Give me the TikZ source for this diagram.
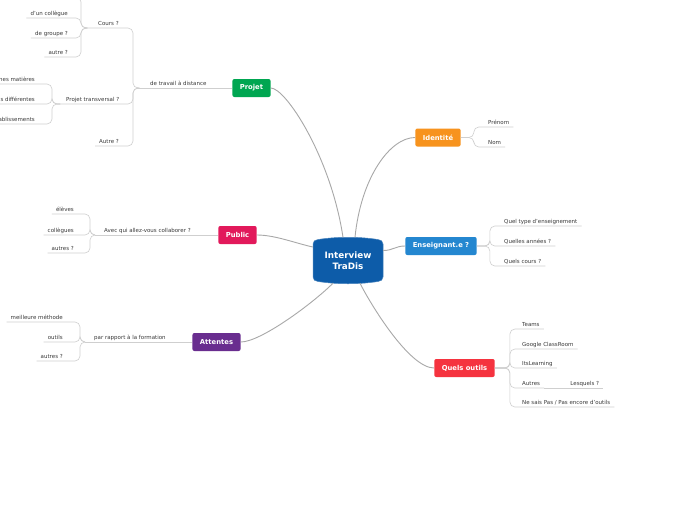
\documentclass[tikz,border=0pt]{standalone}
\usepackage{fontspec}
\setmainfont{DejaVu Sans}
\usetikzlibrary{positioning,backgrounds}

\definecolor{tradisblue}{HTML}{0D5CA9}
\definecolor{projetgreen}{HTML}{00A651}
\definecolor{publicpink}{HTML}{E2195B}
\definecolor{attentespurple}{HTML}{692D8F}
\definecolor{identiteorange}{HTML}{F7931E}
\definecolor{enseignantblue}{HTML}{2487D0}
\definecolor{outilsred}{HTML}{F5333F}
\definecolor{linkgray}{HTML}{A8A8A8}
\definecolor{linegray}{HTML}{CFCFCF}
\definecolor{textgray}{HTML}{3A3A3A}

\begin{document}
\begin{tikzpicture}[
    x=1pt, y=-1pt,
    topic/.style={
        rounded corners=2pt,
        inner xsep=7.5pt,
        minimum height=18pt,
        text=white,
        font=\fontsize{6.8}{7}\selectfont\bfseries
    },
    kid/.style={
        inner xsep=4pt,
        inner ysep=1.5pt,
        text height=4pt,
        text depth=1pt,
        text=textgray,
        font=\fontsize{5.5}{6}\selectfont
    },
    link/.style={draw=linkgray,line width=0.9pt},
    uline/.style={draw=linegray,line width=0.6pt,rounded corners=5pt}
]

\useasboundingbox (0,0) rectangle (697,520);
\clip (0,0) rectangle (697,520);

%------------------------------------------------
% Centre
%------------------------------------------------

\node[align=center,text=white,minimum width=70pt,minimum height=41pt,
      font=\fontsize{8.8}{11}\selectfont\bfseries] (tradis) at (348,260.5)
{Interview\\TraDis};

%------------------------------------------------
% Main topics
%------------------------------------------------

\node[topic,fill=projetgreen] (projet) at (251.5,88) {Projet};
\node[topic,fill=publicpink] (public) at (237.5,235) {Public};
\node[topic,fill=attentespurple] (attentes) at (216.5,342) {Attentes};
\node[topic,fill=identiteorange] (identite) at (438,137.5) {Identité};
\node[topic,fill=enseignantblue] (enseignant) at (441,246) {Enseignant.e ?};
\node[topic,fill=outilsred] (outils) at (464.5,368) {Quels outils};

\draw[link] (projet.east) .. controls +(15,0) and +(-12,-80) .. ([xshift=-5pt,yshift=2.5pt]tradis.north);
\draw[link] (identite.west) .. controls +(-25,0) and +(6,-60) .. ([xshift=7pt,yshift=2.5pt]tradis.north);
\draw[link] (enseignant.west) .. controls +(-10,0) and +(10,0) .. ([yshift=10pt]tradis.east);
\draw[link] (outils.west) .. controls +(-25,0) and +(10,20) .. ([xshift=12pt,yshift=-2pt]tradis.south);
\draw[link] (attentes.east) .. controls +(20,0) and +(-20,20) .. ([xshift=-15pt,yshift=-2pt]tradis.south);
\draw[link] (public.east) .. controls +(18,0) and +(-18,-4) .. ([yshift=13.5pt]tradis.west);

%------------------------------------------------
% Projet
%------------------------------------------------

\coordinate (brtravail) at (137,88);
\node[kid,anchor=south west] (travail) at (146,88) {de travail à distance};
\draw[uline] (projet.west) -- (brtravail);

\coordinate (brcours) at (85,28);
\coordinate (brtrans) at (60,104);
\node[kid,anchor=south west] (cours) at (94,28) {Cours ?};
\node[kid,anchor=south west] (transversal) at (62,104) {Projet transversal ?};
\node[kid,anchor=south west] (autre) at (95,146) {Autre ?};

\foreach \x in {brcours,brtrans,autre.south west}
\draw[uline] (brtravail) -- ++(-4,0) |- (\x);

% Cours ?
\coordinate (coursplus) at (27,-3);
\node[kid,anchor=south east] (collegue) at (72,18) {d'un collègue};
\node[kid,anchor=south east] (groupe) at (72,38) {de groupe ?};
\node[kid,anchor=south east] (autrecours) at (72,57) {autre ?};

\foreach \x in {coursplus,collegue.south west,groupe.south west,autrecours.south west}
\draw[uline] (brcours) -- ++(-4,0) |- (\x);

% Projet transversal ?
\node[kid,anchor=south east] (matieres) at (39,84) {nes matières};
\node[kid,anchor=south east] (differentes) at (39,104) {s différentes};
\node[kid,anchor=south east] (etablissements) at (39,124) {ablissements};

\foreach \x in {matieres,differentes,etablissements}
\draw[uline] (brtrans) -- ++(-8,0) |- (\x.south west);

%------------------------------------------------
% Public
%------------------------------------------------

\coordinate (brpublic) at (95,235);
\node[kid,anchor=south west] (collaborer) at (100,235) {Avec qui allez-vous collaborer ?};
\draw[uline] (public.west) -- (brpublic);

\node[kid,anchor=south east] (eleves) at (78,214) {élèves};
\node[kid,anchor=south east] (collegues) at (78,235) {collègues};
\node[kid,anchor=south east] (autrespublic) at (78,253) {autres ?};

\foreach \x in {eleves,collegues,autrespublic}
\draw[uline] (brpublic) -- ++(-5,0) |- (\x.south west);

%------------------------------------------------
% Attentes
%------------------------------------------------

\coordinate (brattentes) at (85,342);
\node[kid,anchor=south west] (formation) at (90,342) {par rapport à la formation};
\draw[uline] (attentes.west) -- (brattentes);

\node[kid,anchor=south east] (methode) at (67,322) {meilleure méthode};
\node[kid,anchor=south east] (outilsatt) at (67,342) {outils};
\node[kid,anchor=south east] (autresatt) at (67,361) {autres ?};

\foreach \x in {methode,outilsatt,autresatt}
\draw[uline] (brattentes) -- ++(-5,0) |- (\x.south west);

%------------------------------------------------
% Identite
%------------------------------------------------

\node[kid,anchor=south west] (prenom) at (484,127) {Prénom};
\node[kid,anchor=south west] (nom) at (484,147) {Nom};

\foreach \x in {prenom,nom}
\draw[uline] (identite.east) -- ++(13,0) |- (\x.south east);

%------------------------------------------------
% Enseignant.e
%------------------------------------------------

\node[kid,anchor=south west] (type) at (500,226) {Quel type d'enseignement};
\node[kid,anchor=south west] (annees) at (500,246) {Quelles années ?};
\node[kid,anchor=south west] (coursens) at (500,266) {Quels cours ?};

\foreach \x in {type,annees,coursens}
\draw[uline] (enseignant.east) -- ++(13,0) |- (\x.south east);

%------------------------------------------------
% Quels outils
%------------------------------------------------

\node[kid,anchor=south west] (teams) at (518,329) {Teams};
\node[kid,anchor=south west] (classroom) at (518,349) {Google ClassRoom};
\node[kid,anchor=south west] (itslearning) at (518,368) {ItsLearning};
\node[kid,anchor=south west] (autres) at (518,388) {Autres};
\node[kid,anchor=south west] (nesaispas) at (518,407) {Ne sais Pas / Pas encore d'outils};
\node[kid,right=22pt of autres] (lesquels) {Lesquels ?};

\foreach \x in {teams,classroom,itslearning,autres,nesaispas}
\draw[uline] (outils.east) -- ++(15,0) |- (\x.south east);

\draw[uline] (autres.south east) -- (lesquels.south east);

%------------------------------------------------
% Background and centre shape
%------------------------------------------------

\begin{scope}[on background layer]
\fill[white] (0,0) rectangle (697,520);
\begin{scope}[shift={(tradis.center)}]
\fill[tradisblue,draw=tradisblue!75!white,line width=0.5pt]
    (-35,-16.5) -- (-35,16.5)
    .. controls (-35,19.5) and (-33,20.5) .. (-30,21)
    .. controls (-10,24) and (10,24) .. (30,21)
    .. controls (33,20.5) and (35,19.5) .. (35,16.5)
    -- (35,-16.5)
    .. controls (35,-19.5) and (33,-20.5) .. (30,-21)
    .. controls (10,-24) and (-10,-24) .. (-30,-21)
    .. controls (-33,-20.5) and (-35,-19.5) .. cycle;
\end{scope}
\end{scope}

\end{tikzpicture}
\end{document}
